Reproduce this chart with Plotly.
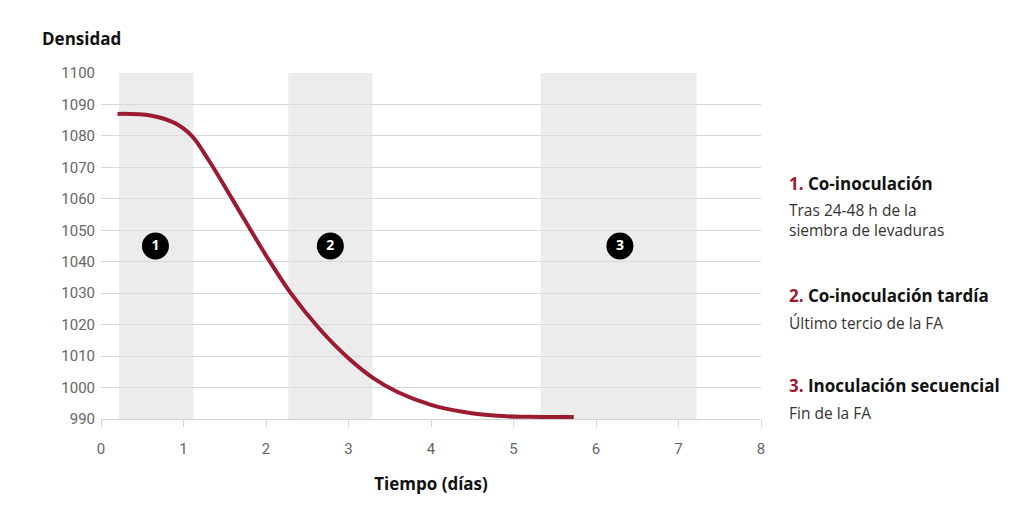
import plotly.graph_objects as go

# curva de densidad (días, g/L)
tiempo = [0.2, 0.6, 0.9, 1.1, 1.3, 1.6, 2.0, 2.3, 2.65, 3.0, 3.3, 3.6, 4.0, 4.4, 4.8, 5.2, 5.73]
densidad = [1087, 1086.5, 1084, 1080, 1072.5, 1059.5, 1042, 1030, 1018.6, 1009.3, 1003, 998.5, 994.5, 992.2, 991, 990.7, 990.6]

# franjas de inoculación
franja_ini = [0.22, 2.27, 5.33]
franja_fin = [1.12, 3.29, 7.22]
marcas_x = [0.66, 2.78, 6.29]
marcas_y = [1045, 1045, 1045]
marcas_txt = ['1', '2', '3']

titulos = ['Co-inoculación', 'Co-inoculación tardía', 'Inoculación secuencial']
subtitulos = ['Tras 24-48 h de la<br>siembra de levaduras', 'Último tercio de la FA', 'Fin de la FA']

rojo = '#9b1b30'

fig = go.Figure()

for x0, x1 in zip(franja_ini, franja_fin):
    fig.add_shape(type='rect', xref='x', yref='y', x0=x0, x1=x1, y0=990, y1=1100,
                  fillcolor='#ececec', line=dict(width=0), layer='below')

fig.add_trace(go.Scatter(x=tiempo, y=densidad, mode='lines',
                         line=dict(color=rojo, width=4, shape='spline', smoothing=1),
                         hoverinfo='skip', showlegend=False))

fig.add_trace(go.Scatter(x=marcas_x, y=marcas_y, mode='markers+text', text=marcas_txt,
                         marker=dict(size=27, color='black'),
                         textfont=dict(color='white', size=14, family='Open Sans', weight='bold'),
                         textposition='middle center', hoverinfo='skip', showlegend=False))

# leyenda a la derecha
pos_tit = [0.682, 0.358, 0.098]
pos_sub = [0.575, 0.277, 0.017]
for i in range(3):
    fig.add_annotation(xref='paper', yref='paper', x=1.039, y=pos_tit[i], xanchor='left', yanchor='middle',
                       showarrow=False, align='left',
                       text=f"<span style='color:{rojo}'>{i + 1}.</span> {titulos[i]}",
                       font=dict(family='Open Sans', size=17, color='#111111', weight='bold'))
    fig.add_annotation(xref='paper', yref='paper', x=1.039, y=pos_sub[i], xanchor='left', yanchor='middle',
                       showarrow=False, align='left', text=subtitulos[i],
                       font=dict(family='Open Sans', size=15.5, color='#333333'))

fig.add_annotation(xref='paper', yref='paper', x=-0.093, y=1.101, xanchor='left', yanchor='middle',
                   showarrow=False, text='Densidad',
                   font=dict(family='Open Sans', size=17, color='#111111', weight='bold'))

fig.update_xaxes(range=[0, 8], dtick=1, showgrid=False, zeroline=False,
                 showline=True, linecolor='#d4d4d4', linewidth=1,
                 ticks='outside', ticklen=7, tickcolor='#d4d4d4', ticklabelstandoff=9,
                 tickfont=dict(family='Roboto', size=15, color='#666666'),
                 title=dict(text='Tiempo (días)', standoff=21,
                            font=dict(family='Open Sans', size=17, color='#111111', weight='bold')))
fig.update_yaxes(range=[990, 1100], dtick=10, showgrid=True, gridcolor='#d9d9d9', gridwidth=1,
                 zeroline=False, showline=False, ticks='', ticklabelstandoff=5,
                 tickfont=dict(family='Roboto', size=15, color='#666666'))

# la página añade 8 px de margen al cuerpo
fig.update_layout(width=1016, height=504, margin=dict(l=93, r=263, t=65, b=93),
                  paper_bgcolor='white', plot_bgcolor='white')

fig.write_html("out.html")
